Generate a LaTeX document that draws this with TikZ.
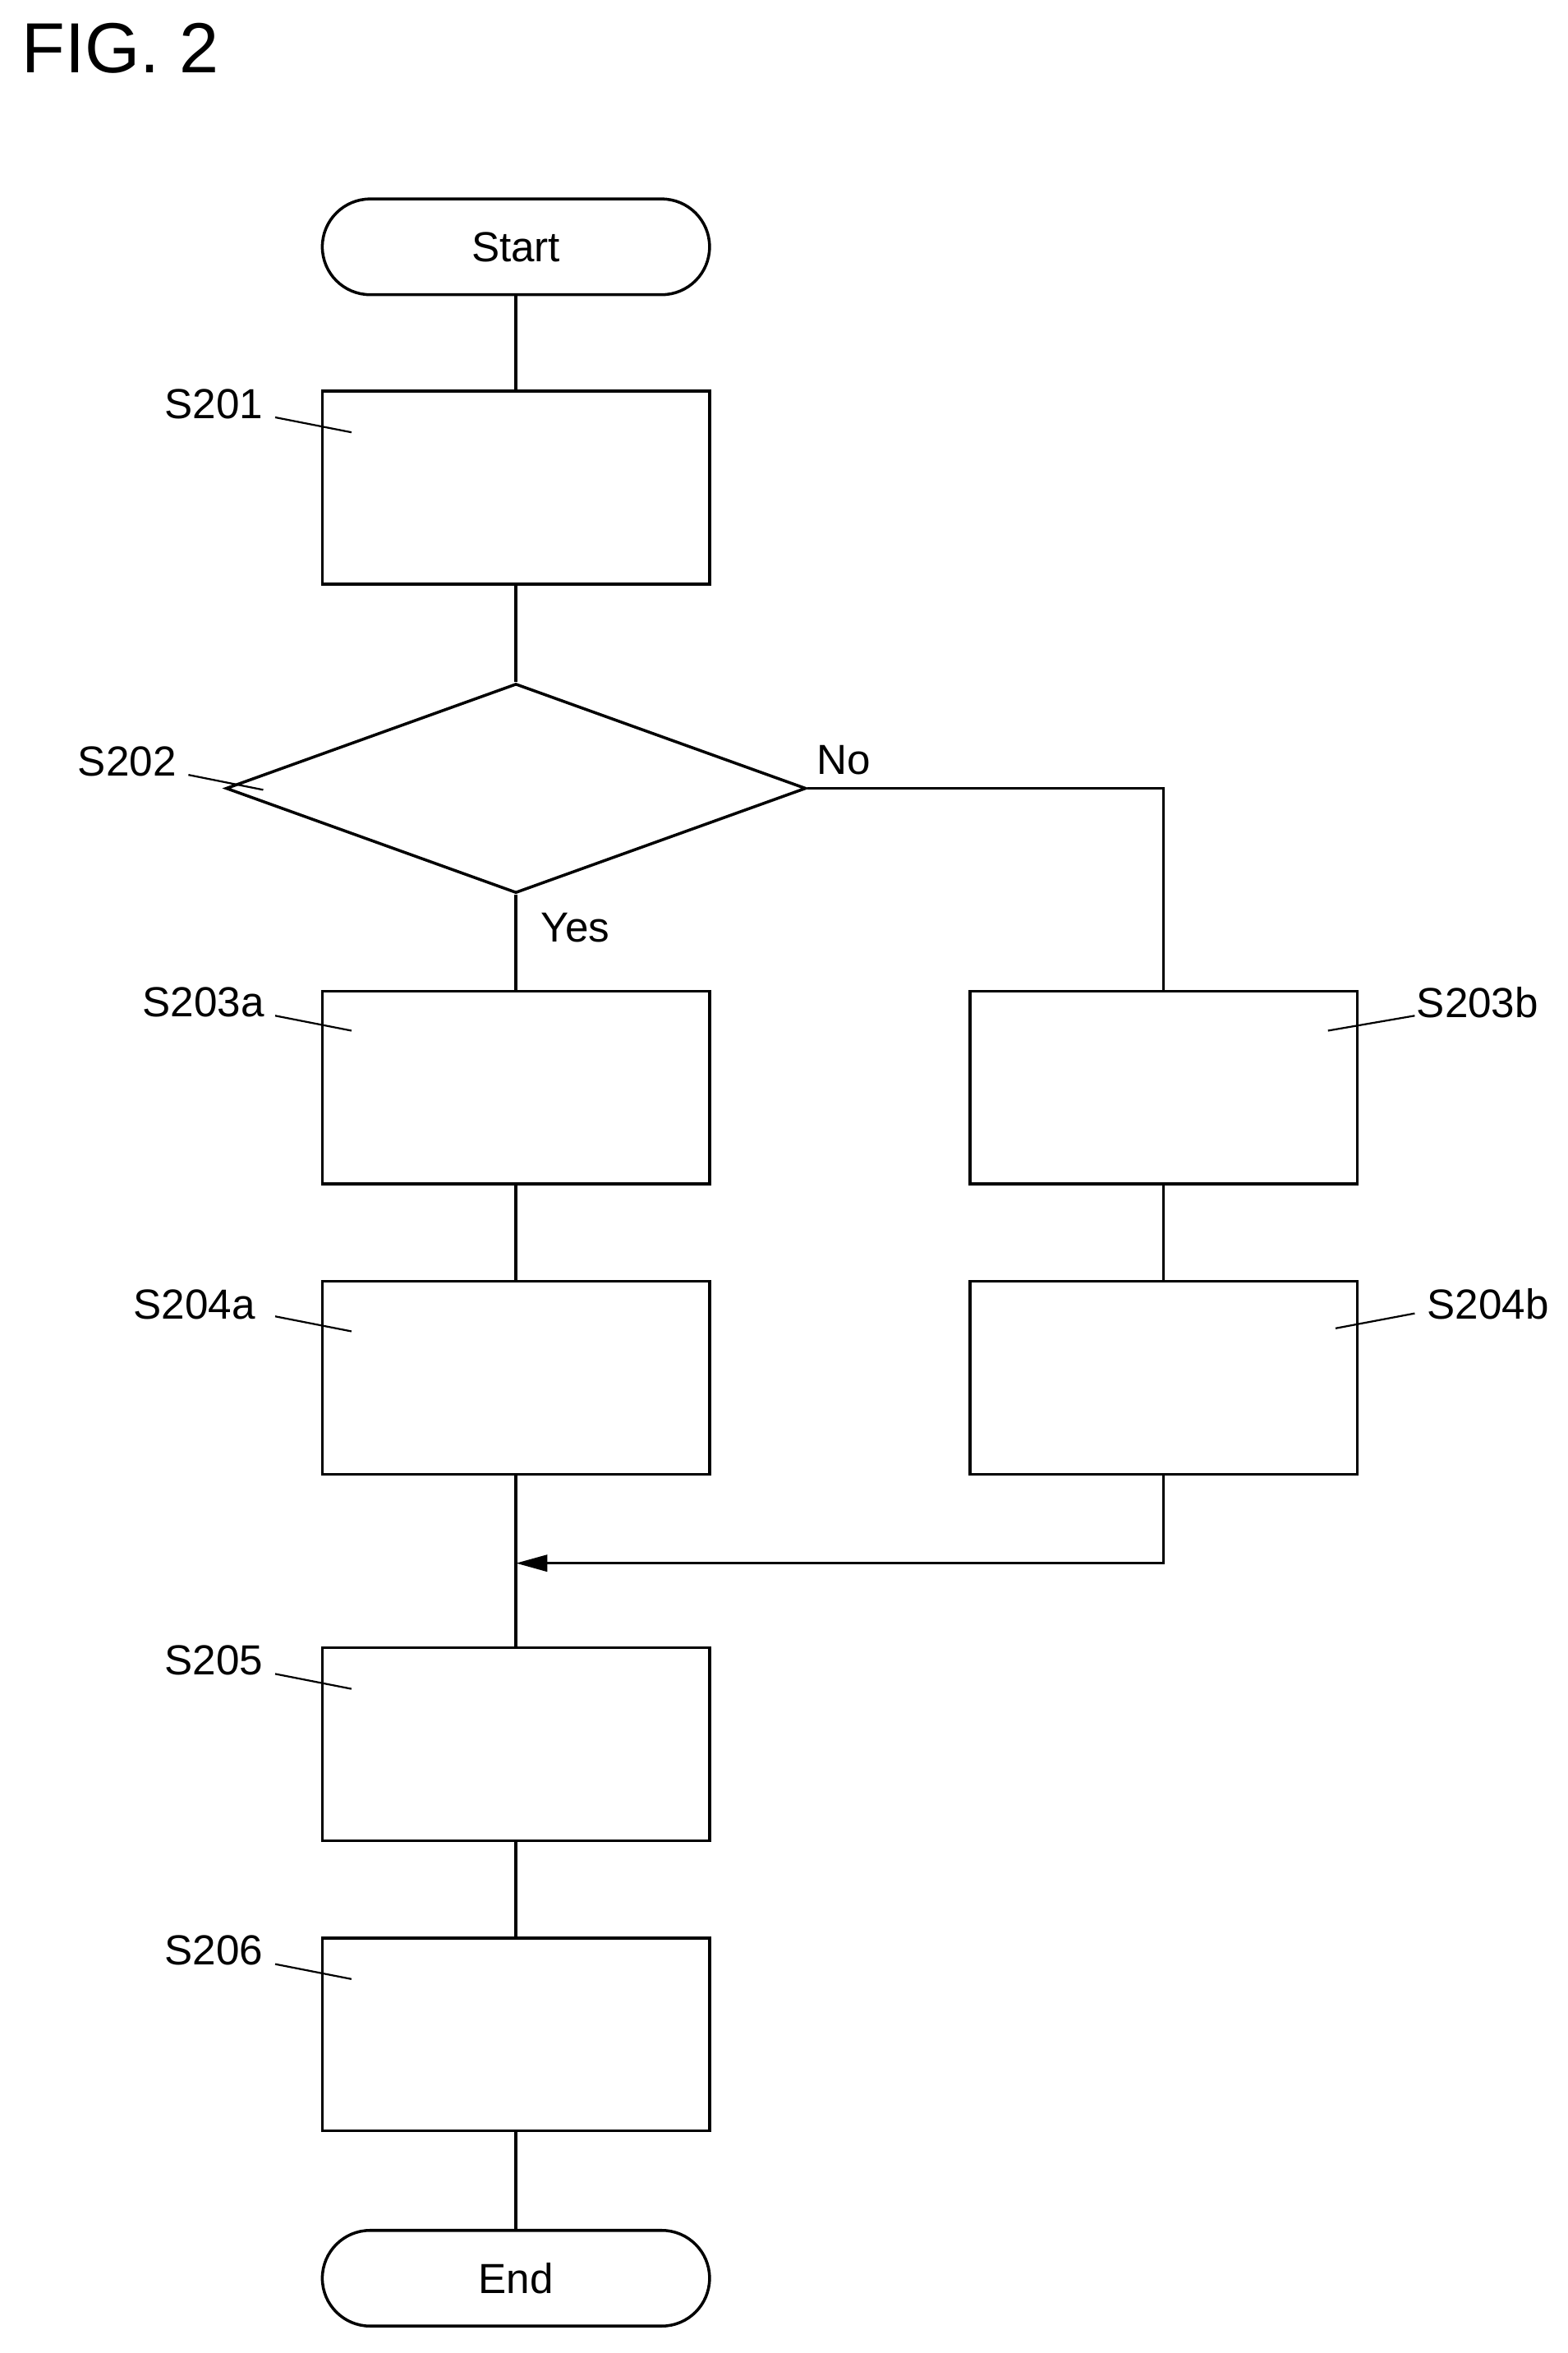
\documentclass[tikz,border=0pt]{standalone}
\usepackage{fontspec}
\setmainfont{Liberation Sans}
\usetikzlibrary{shapes.geometric,arrows.meta}

\begin{document}
\begin{tikzpicture}[x=0.02cm,y=-0.02cm,line width=1.1pt,
    every node/.style={font=\fontsize{16}{19}\selectfont},
    proc/.style={draw,minimum width=5.18cm,minimum height=2.58cm,inner sep=0pt},
    term/.style={draw,rounded corners=0.64cm,minimum width=5.18cm,minimum height=1.28cm,inner sep=0pt},
    test/.style={draw,diamond,minimum width=7.76cm,minimum height=2.8cm,inner sep=0pt},
    tag/.style={inner sep=0pt}]
        \useasboundingbox (0,0) rectangle (1048,1573);
        \node[anchor=west,font=\fontsize{27}{32}\selectfont] (fig) at (8,32) {FIG. 2};
        \node[term] (start) at (345,165) {Start};
        \node[proc] (s201) at (345,326) {};
        \node[test] (s202) at (345,527) {};
        \node[proc] (s203a) at (345,727) {};
        \node[proc] (s203b) at (778,727) {};
        \node[proc] (s204a) at (345,921) {};
        \node[proc] (s204b) at (778,921) {};
        \coordinate (merge) at (345,1045);
        \node[proc] (s205) at (345,1166) {};
        \node[proc] (s206) at (345,1360) {};
        \node[term] (end) at (345,1523) {End};
        % connectors
        \draw (start) -- (s201);
        \draw (s201) -- (s202.north);
        \draw (s202.south) -- (s203a) node[pos=0.35,anchor=west,xshift=0.2cm] (yes) {Yes};
        \draw (s202.east) -| (s203b);
        \node[anchor=south west,tag] (no) at (545,519) {No};
        \draw (s203a) -- (s204a);
        \draw (s203b) -- (s204b);
        \draw (s204a) -- (s205);
        \draw[-{Triangle[length=0.42cm,width=0.22cm]}] (s204b.south) |- (merge);
        \draw (s205) -- (s206);
        \draw (s206) -- (end);
        % step labels
        \node[tag] (l201) at (143,270) {S201};
        \draw[line width=0.7pt] (184,279) -- (235,289);
        \node[tag] (l202) at (85,509) {S202};
        \draw[line width=0.7pt] (126,518) -- (176,528);
        \node[tag] (l203a) at (136,670) {S203a};
        \draw[line width=0.7pt] (184,679) -- (235,689);
        \node[tag] (l203b) at (988,670) {S203b};
        \draw[line width=0.7pt] (946,679) -- (888,689);
        \node[tag] (l204a) at (130,872) {S204a};
        \draw[line width=0.7pt] (184,880) -- (235,890);
        \node[tag] (l204b) at (995,872) {S204b};
        \draw[line width=0.7pt] (946,878) -- (893,888);
        \node[tag] (l205) at (143,1110) {S205};
        \draw[line width=0.7pt] (184,1119) -- (235,1129);
        \node[tag] (l206) at (143,1304) {S206};
        \draw[line width=0.7pt] (184,1313) -- (235,1323);
\end{tikzpicture}
\end{document}
